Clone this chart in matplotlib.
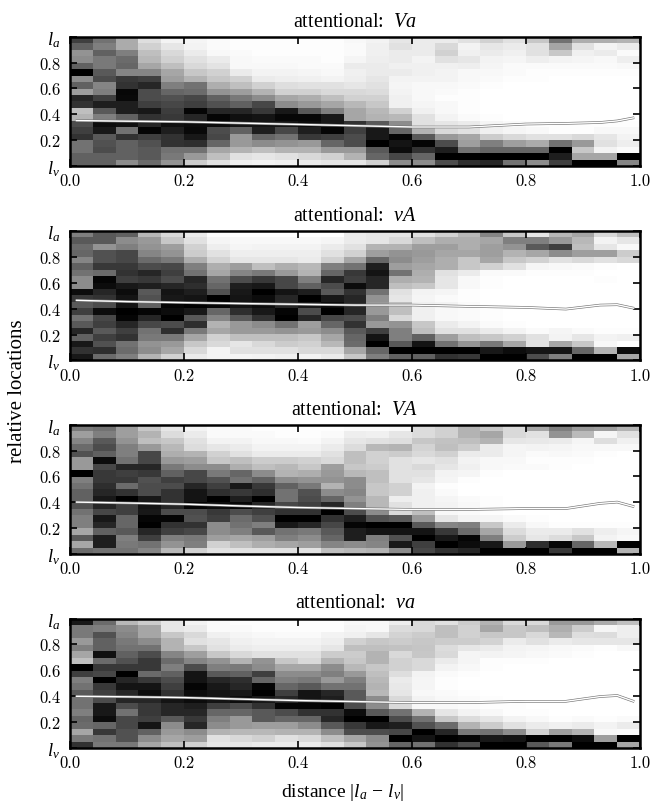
# -*- coding: utf-8 -*-
import matplotlib
matplotlib.use('Agg')
import matplotlib.pyplot as plt
import numpy as np

plt.rcParams['mathtext.fontset'] = 'custom'
plt.rcParams['mathtext.rm'] = 'Liberation Serif'
plt.rcParams['mathtext.it'] = 'Liberation Serif:italic'
plt.rcParams['mathtext.fallback'] = 'cm'
plt.rcParams['font.family'] = ['Liberation Serif']

# darkness of each cell, 0 white .. 100 black, top row first
va_cells = [
    [75,55,33,13,5,4,2,1,1,1,1,1,3,5,10,8,8,12,18,12,22,55,32,32,30],
    [62,50,33,18,10,5,2,1,1,1,1,1,2,6,12,8,15,5,10,8,12,35,12,5,8],
    [42,62,50,25,15,8,3,2,1,1,1,1,2,6,8,8,18,6,8,6,12,22,6,8,2],
    [45,52,58,28,18,12,8,3,2,2,2,1,4,7,8,5,12,10,5,4,7,5,4,3,7],
    [62,52,60,35,25,15,11,3,3,3,2,2,8,8,6,6,6,7,4,2,2,2,2,2,3],
    [100,65,48,48,35,22,18,8,5,5,4,3,6,8,8,6,5,3,3,2,1,1,1,1,1],
    [45,70,78,75,38,30,22,18,8,7,6,5,7,10,5,5,5,3,2,1,1,0,0,0,0],
    [62,48,80,85,50,55,32,25,18,13,12,12,10,12,4,3,3,2,1,0,0,0,0,0,0],
    [38,50,97,70,60,58,42,38,30,18,18,15,15,14,5,3,2,1,0,0,0,0,0,0,0],
    [85,75,96,70,68,72,62,52,45,35,32,25,18,18,6,3,1,1,0,0,0,0,0,0,0],
    [80,88,88,75,72,75,68,62,72,45,40,35,28,22,6,4,3,1,0,0,0,0,0,0,0],
    [25,65,88,90,76,98,85,85,78,90,65,50,35,28,18,6,3,1,0,0,0,0,0,0,0],
    [30,50,62,80,78,85,98,93,92,97,97,90,35,30,28,12,5,2,1,0,0,0,0,0,0],
    [70,95,93,85,93,95,95,92,92,92,95,90,80,65,45,12,10,8,4,2,1,1,1,1,1],
    [75,90,55,98,88,96,70,62,88,72,88,98,75,90,60,30,15,12,6,4,3,1,1,3,3],
    [80,65,80,75,80,90,72,40,60,55,78,75,70,90,98,65,40,35,20,15,12,12,15,10,5],
    [55,68,62,68,80,82,60,40,45,42,40,60,70,100,92,98,70,38,50,38,33,55,40,12,7],
    [55,70,62,65,55,55,35,30,25,30,30,40,40,65,95,80,88,55,60,60,60,100,22,5,2],
    [62,62,62,65,52,40,25,12,10,12,15,18,30,60,72,60,100,100,100,100,100,88,35,35,100],
    [62,62,45,58,42,20,12,6,5,6,8,10,10,18,45,45,70,82,85,55,45,75,100,100,48],
]
vA_cells = [
    [50,65,62,28,15,8,1,0,0,0,0,0,8,10,10,12,18,28,48,22,10,28,35,15,25],
    [65,65,45,40,22,12,4,3,3,3,3,4,8,10,15,25,32,32,35,50,50,40,28,5,10],
    [58,42,50,42,38,18,7,4,5,5,5,8,12,30,30,38,38,32,38,42,65,75,25,10,3],
    [60,68,72,48,42,20,12,7,7,7,7,12,18,38,42,40,35,35,38,30,35,45,38,38,20],
    [48,68,72,58,52,32,17,10,10,10,8,18,35,60,45,38,32,22,35,22,18,12,15,12,15],
    [62,78,78,70,72,50,32,38,25,32,28,50,55,88,38,35,32,22,18,12,4,3,2,1,0],
    [55,58,80,85,75,55,35,48,52,40,30,60,78,92,55,32,12,8,2,2,1,1,1,0,0],
    [45,98,75,78,70,85,55,70,78,72,50,85,75,85,32,30,10,3,1,0,0,0,0,1,0],
    [45,95,90,88,85,82,60,88,90,72,62,70,95,85,25,22,10,3,1,0,0,0,0,0,0],
    [95,85,95,65,92,88,68,90,100,92,88,65,80,55,12,5,4,1,0,0,0,0,0,0,0],
    [78,80,92,68,90,92,100,92,95,85,100,90,85,42,10,4,2,1,0,0,0,0,0,0,0],
    [65,70,92,62,98,100,98,92,95,85,90,95,85,40,25,6,5,2,0,0,0,0,0,0,0],
    [75,95,100,98,95,90,60,82,90,98,70,100,85,40,25,6,3,2,1,0,0,0,0,0,0],
    [55,72,98,85,100,65,48,65,80,100,85,72,70,50,15,6,3,2,1,0,0,0,0,0,0],
    [65,75,85,72,70,82,30,40,45,55,38,60,80,40,42,22,8,5,2,1,0,0,0,0,0],
    [85,65,75,55,82,52,35,40,40,42,40,45,65,75,50,25,12,12,8,5,2,4,2,1,1],
    [62,75,80,52,52,35,18,25,25,25,22,35,60,92,50,62,38,25,22,18,12,5,10,5,6],
    [90,68,55,42,40,22,15,10,15,20,18,28,58,100,65,92,55,42,52,35,12,35,22,3,0],
    [80,82,58,45,35,15,5,12,12,12,15,15,35,60,100,100,100,100,90,95,92,92,60,30,95],
    [90,58,50,30,18,8,5,4,5,6,5,8,22,50,62,62,80,78,100,100,70,50,100,100,35],
]
VA_cells = [
    [52,55,38,22,10,5,2,2,1,1,1,1,2,2,3,14,18,30,22,15,35,50,40,38,30],
    [38,50,38,30,14,8,2,2,2,1,1,2,7,6,10,14,18,30,35,15,12,42,27,4,12],
    [48,65,42,25,22,12,5,5,3,3,2,5,10,12,13,22,24,25,30,10,9,8,4,13,6],
    [58,70,50,40,28,14,10,8,5,5,5,8,14,28,30,17,25,20,8,4,5,4,3,3,3],
    [68,62,50,72,32,30,18,12,8,8,8,12,25,18,20,15,18,8,8,4,2,3,2,1,0],
    [40,95,55,72,40,38,22,25,20,20,18,15,25,18,12,10,12,5,3,3,1,1,1,0,0],
    [40,72,85,85,52,45,45,32,25,28,22,38,22,20,12,15,10,6,3,2,2,1,0,0,0],
    [100,78,75,78,62,72,52,60,45,30,32,40,28,25,12,12,5,4,1,0,0,0,0,0,0],
    [50,78,78,68,75,72,68,55,62,45,42,42,45,25,12,10,4,1,0,0,0,0,0,0,0],
    [55,82,58,70,70,85,75,90,78,62,52,30,45,22,18,5,1,0,0,0,0,0,0,0,0],
    [62,85,80,70,80,92,82,78,82,55,68,45,48,22,18,6,2,0,0,0,0,0,0,0,0],
    [62,90,100,90,80,92,100,88,100,55,70,60,42,28,7,6,4,2,1,0,0,0,0,0,0],
    [68,85,75,92,85,98,95,98,85,72,75,85,50,28,12,6,5,3,1,0,0,0,0,0,0],
    [55,72,75,90,70,70,78,70,75,80,80,100,70,45,15,25,3,2,1,0,0,0,0,0,0],
    [50,90,60,98,98,68,75,58,68,100,100,80,88,68,65,40,10,5,4,2,1,0,0,0,0],
    [50,85,60,100,80,80,45,55,50,90,85,72,98,100,100,65,48,50,22,8,3,1,1,1,1],
    [35,62,65,85,75,72,45,50,65,55,52,65,88,92,92,92,78,58,35,14,8,8,12,7,4],
    [65,88,50,75,50,52,38,35,38,50,45,60,88,50,68,100,90,98,50,20,10,14,22,5,3],
    [35,88,52,55,42,50,18,25,32,35,38,48,45,48,90,75,100,95,90,40,82,98,60,28,100],
    [58,55,55,48,28,18,12,12,12,12,12,25,28,30,45,72,80,85,100,100,100,78,100,100,30],
]
va_lower_cells = [
    [90,58,28,20,10,5,2,1,1,1,1,1,3,3,7,15,12,20,30,15,15,40,40,33,25],
    [52,50,45,35,10,8,2,2,1,1,1,1,4,3,14,15,25,18,35,22,25,32,20,4,7],
    [52,68,48,35,22,15,6,4,3,2,2,5,6,10,17,20,25,18,22,22,15,28,13,14,7],
    [40,62,52,45,30,12,10,6,5,5,5,7,18,22,20,22,20,20,17,8,12,8,10,10,10],
    [50,62,55,55,30,22,12,8,7,7,7,10,25,25,24,23,14,10,8,5,4,3,2,1,3],
    [35,93,62,70,48,38,22,15,12,12,12,20,20,30,15,22,15,4,5,4,3,2,1,0,0],
    [25,58,68,78,58,48,42,30,42,22,15,30,22,30,18,15,8,4,1,1,1,0,0,0,0],
    [100,78,78,78,50,70,50,52,45,35,35,45,28,22,18,15,5,3,1,0,0,0,0,0,0],
    [75,72,100,58,62,92,65,62,75,45,45,50,40,25,13,5,2,1,0,0,0,0,0,0,0],
    [50,100,85,78,70,92,85,82,60,50,52,40,50,28,8,4,1,0,0,0,0,0,0,0,0],
    [55,78,92,92,75,98,90,85,98,60,65,55,55,30,9,4,1,0,0,0,0,0,0,0,0],
    [65,75,85,95,80,95,92,90,100,75,92,85,65,28,10,3,2,1,0,0,0,0,0,0,0],
    [55,70,85,85,92,95,92,95,90,85,92,88,65,45,15,5,3,2,1,0,0,0,0,0,0],
    [55,90,70,78,85,88,75,70,80,98,98,100,70,45,15,3,3,2,1,1,0,0,0,0,0],
    [50,90,55,78,85,85,60,60,65,70,80,80,95,65,55,30,10,5,3,1,1,0,0,0,0],
    [60,95,72,75,65,78,50,40,65,60,60,85,100,100,70,55,22,14,10,5,3,1,2,1,2],
    [58,60,72,92,45,85,45,40,38,38,45,65,78,90,88,68,58,30,20,12,8,6,8,5,8],
    [35,78,68,62,40,45,30,28,28,30,30,45,70,70,72,100,85,52,55,45,18,38,30,3,2],
    [52,55,68,45,35,38,12,15,18,12,15,25,35,45,100,92,100,98,90,92,100,100,95,38,100],
    [80,52,52,35,25,18,10,10,8,8,8,12,22,42,60,55,80,70,100,100,65,52,100,100,35],
]

line_x = [0.01, 0.1, 0.2, 0.3, 0.4, 0.5, 0.6, 0.7, 0.8, 0.87, 0.93, 0.96, 0.99]
va_line = [0.35, 0.345, 0.34, 0.33, 0.32, 0.31, 0.30, 0.30, 0.323, 0.328, 0.335, 0.347, 0.372]
vA_line = [0.465, 0.455, 0.447, 0.44, 0.434, 0.428, 0.428, 0.418, 0.41, 0.397, 0.428, 0.431, 0.403]
VA_line = [0.40, 0.393, 0.384, 0.37, 0.358, 0.35, 0.343, 0.343, 0.35, 0.35, 0.39, 0.40, 0.364]
va_lower_line = [0.397, 0.393, 0.387, 0.375, 0.364, 0.356, 0.348, 0.348, 0.358, 0.358, 0.395, 0.403, 0.356]

titles = ['Va', 'vA', 'VA', 'va']
cells = [va_cells, vA_cells, VA_cells, va_lower_cells]
lines = [va_line, vA_line, VA_line, va_lower_line]
x_ticks = [0.0, 0.2, 0.4, 0.6, 0.8, 1.0]
y_ticks = [0.0, 0.2, 0.4, 0.6, 0.8, 1.0]
y_labels = ['$l_v\\;\\;$', '0.2', '0.4', '0.6', '0.8', '$l_a\\;\\;$']

W, H = 652, 804
fig = plt.figure(figsize=(W / 100, H / 100), dpi=100)

tops = [37.7, 232.3, 425.7, 619.5]
for i in range(4):
    ax = fig.add_axes([70 / W, 1 - (tops[i] + 129) / H, 570 / W, 129 / H])
    ax.imshow(cells[i], cmap='gray_r', vmin=0, vmax=100, aspect='auto',
              extent=[0, 1, 0, 1], interpolation='nearest')
    ax.plot(line_x, lines[i], color='0.45', lw=1.9, solid_capstyle='butt')
    ax.plot(line_x, lines[i], color='white', lw=1.0, solid_capstyle='butt')
    ax.set_xlim(0, 1)
    ax.set_ylim(0, 1)
    ax.set_xticks(x_ticks)
    ax.set_xticklabels(['%.1f' % t for t in x_ticks], fontsize=12, family='cmr10')
    ax.set_yticks(y_ticks)
    ax.set_yticklabels(y_labels, fontsize=12, family='cmr10')
    ax.get_yticklabels()[0].set_fontsize(13.5)
    ax.get_yticklabels()[-1].set_fontsize(13.5)
    ax.tick_params(direction='in', length=5, width=1.2, top=True, right=True)
    ax.tick_params(axis='x', pad=5)
    ax.tick_params(axis='y', pad=7)
    for s in ax.spines.values():
        s.set_linewidth(1.8)
    ax.set_title('attentional:  $%s$' % titles[i], fontsize=14.5, pad=8)

fig.text(18 / W, 1 - 391 / H, 'relative locations', rotation=90, fontsize=15,
         ha='center', va='center')
fig.text(343 / W, 1 - 793 / H, 'distance $|l_a\\,-\\,l_v|$', fontsize=14,
         ha='center', va='center')

fig.savefig('out.png', dpi=100)
